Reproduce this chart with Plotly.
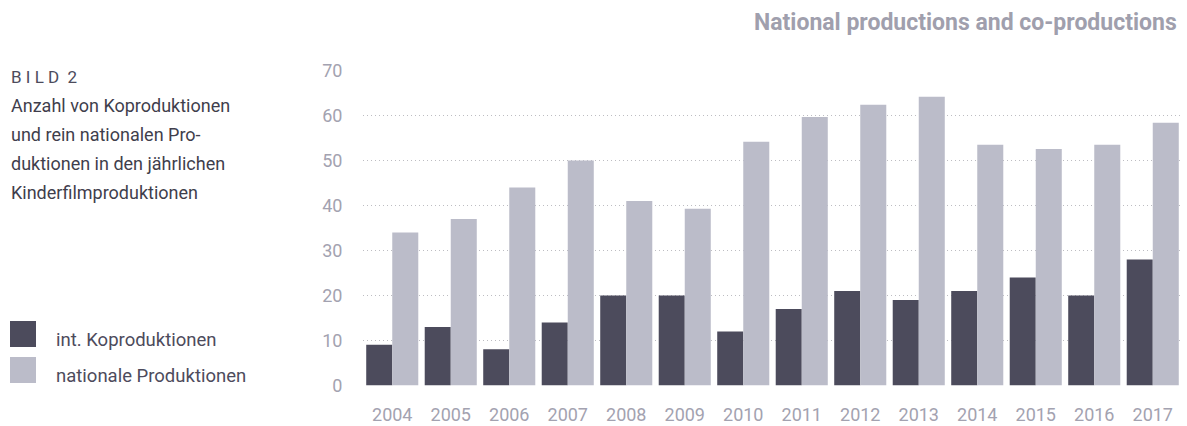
import plotly.graph_objects as go

years = ["2004", "2005", "2006", "2007", "2008", "2009", "2010",
         "2011", "2012", "2013", "2014", "2015", "2016", "2017"]
koproduktionen = [9, 13, 8, 14, 20, 20, 12, 17, 21, 19, 21, 24, 20, 28]
nationale = [34, 37, 44, 50, 41, 39.3, 54.2, 59.7, 62.4, 64.2, 53.5, 52.6, 53.5, 58.4]
y_ticks = [0, 10, 20, 30, 40, 50, 60, 70]

DARK = "#4c4b5c"
LIGHT = "#bbbcc9"
TEXT = "#3f3e4c"
GREY = "#a3a2b0"
FONT = "Roboto, 'Noto Sans', sans-serif"

L, R, T, B = 363, 5, 70, 40
PW = 1187 - L - R
PH = 426 - T - B


def px_x(x):
    return (x - L) / PW


def px_y(y):
    return (426 - B - y) / PH


fig = go.Figure()
fig.add_trace(go.Bar(x=years, y=koproduktionen, name="int. Koproduktionen",
                     marker=dict(color=DARK, line=dict(width=0))))
fig.add_trace(go.Bar(x=years, y=nationale, name="nationale Produktionen",
                     marker=dict(color=LIGHT, line=dict(width=0))))

fig.update_layout(
    width=1187, height=426,
    margin=dict(l=L, r=R, t=T, b=B, autoexpand=False),
    paper_bgcolor="white", plot_bgcolor="white",
    barmode="group", bargap=0.11, bargroupgap=0,
    showlegend=False,
    font=dict(family=FONT, color=GREY, size=16),
    xaxis=dict(type="category", range=[-0.5, 13.5], showgrid=False,
               zeroline=False, showline=False, automargin=False,
               ticks="outside", ticklen=12, tickcolor="rgba(0,0,0,0)",
               tickfont=dict(family=FONT, size=18, color=GREY)),
    yaxis=dict(range=[-0.15, 70.15], tickvals=y_ticks, showgrid=True,
               gridcolor="#bdbdc2", griddash="1px,3px", gridwidth=1,
               zeroline=False, showline=False, automargin=False,
               ticks="outside", ticklen=16, tickcolor="rgba(0,0,0,0)",
               tickfont=dict(family=FONT, size=18, color=GREY)),
)

# Title
fig.add_annotation(text="<b>National productions and co-productions</b>",
                   xref="paper", yref="paper", x=px_x(1179), y=px_y(22),
                   xanchor="right", yanchor="middle", showarrow=False,
                   font=dict(family=FONT, size=23, color="#a09fad"))

# Left text block
fig.add_annotation(text="B I L D  2", xref="paper", yref="paper",
                   x=px_x(9), y=px_y(77), xanchor="left", yanchor="middle",
                   showarrow=False,
                   font=dict(family=FONT, size=17, color="#4d4b5c"))
lines = ["Anzahl von Koproduktionen", "und rein nationalen Pro-",
         "duktionen in den jährlichen", "Kinderfilmproduktionen"]
for i, line in enumerate(lines):
    fig.add_annotation(text=line, xref="paper", yref="paper",
                       x=px_x(9), y=px_y(105 + 29.3 * i),
                       xanchor="left", yanchor="middle", showarrow=False,
                       font=dict(family=FONT, size=18, color=TEXT))

# Legend (manual)
legend_items = [("int. Koproduktionen", DARK, 321), ("nationale Produktionen", LIGHT, 357)]
for label, col, top in legend_items:
    fig.add_shape(type="rect", xref="paper", yref="paper",
                  x0=px_x(10), x1=px_x(36),
                  y0=px_y(top + 26), y1=px_y(top),
                  fillcolor=col, line=dict(width=0), layer="above")
    fig.add_annotation(text=label, xref="paper", yref="paper",
                       x=px_x(54), y=px_y(top + 19),
                       xanchor="left", yanchor="middle", showarrow=False,
                       font=dict(family=FONT, size=18.5, color="#4d4b5c"))

fig.write_html("out.html", config={"displayModeBar": False},
               post_script="document.body.style.margin='0';document.body.style.padding='0';")
